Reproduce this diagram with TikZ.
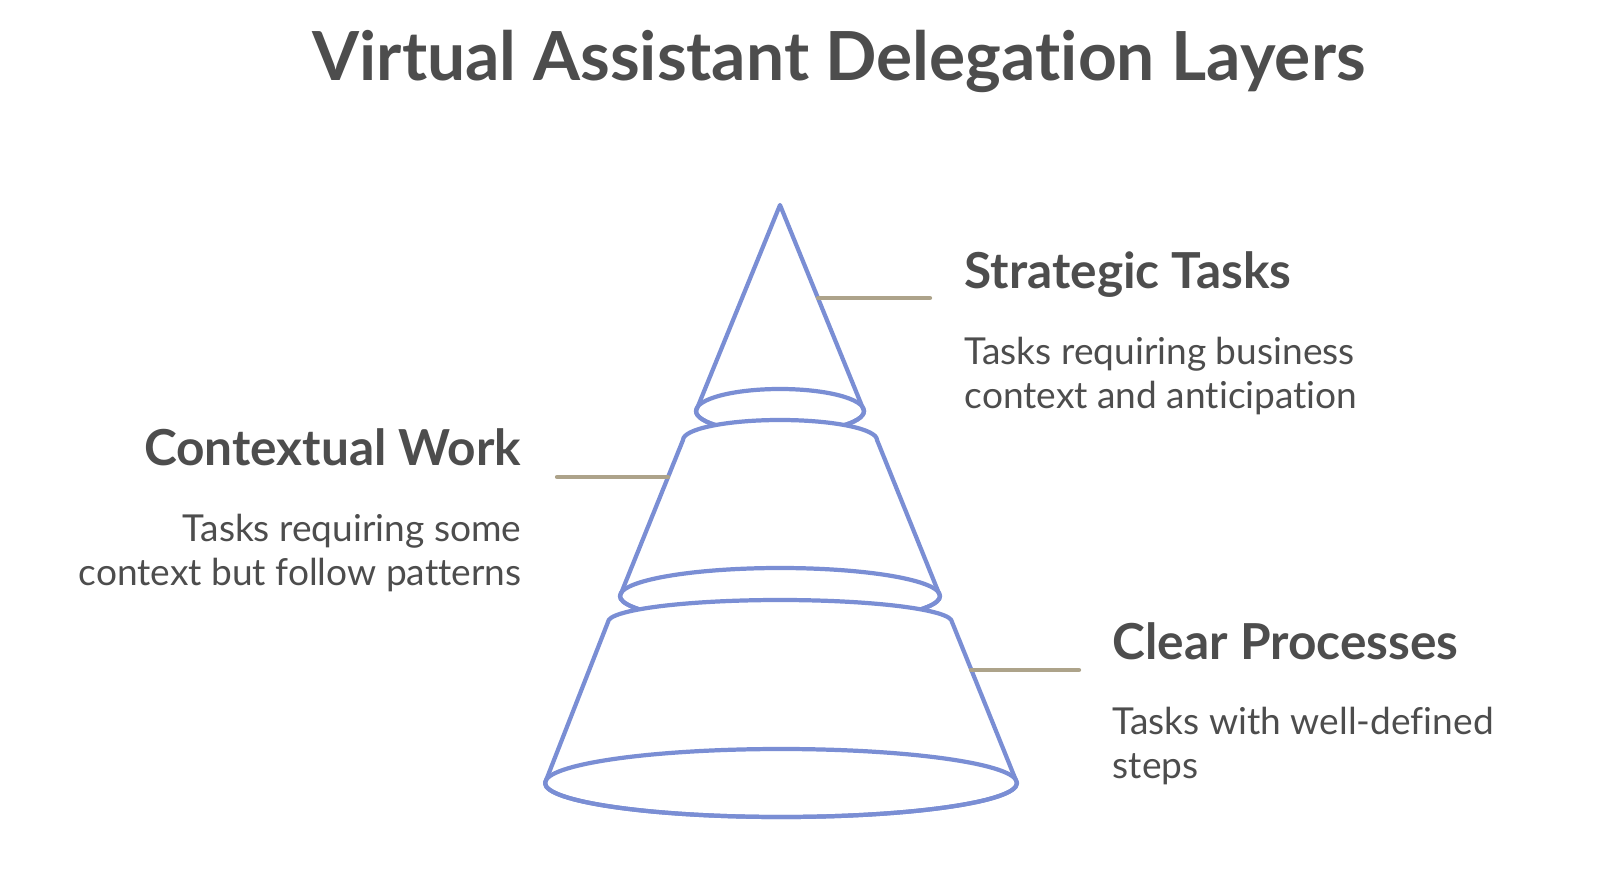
\documentclass[tikz,border=0pt]{standalone}
\usepackage{fontspec}
\setmainfont{Lato}[Ligatures=NoCommon]
\usetikzlibrary{positioning,calc}
\definecolor{conecol}{HTML}{7A8ED4}
\definecolor{leadcol}{HTML}{ADA38A}
\definecolor{textcol}{HTML}{4D4D4D}
\tikzset{
  cone/.style={draw=conecol, line width=1.2pt, line join=round, fill=white},
  lead/.style={draw=leadcol, line width=1.2pt, line cap=round},
  heading/.style={text=textcol, font=\fontsize{14.1}{17}\selectfont\bfseries, inner sep=0pt},
  desc/.style={text=textcol, font=\fontsize{10.55}{12.5}\selectfont, inner sep=0pt, align=left},
}
\begin{document}
\begin{tikzpicture}[x=0.01cm, y=0.01cm]
        \useasboundingbox (0,0) rectangle (1600,875);

        % title
        \node[text=textcol, font=\fontsize{19.25}{23}\selectfont\bfseries, inner sep=0pt, anchor=base] (title) at (839,794) {Virtual Assistant Delegation Layers};

        % top cone
        \coordinate (apex) at (780,670);
        \filldraw[cone] (696,464) -- (apex) -- (864,464) arc[start angle=0, end angle=-180, x radius=84, y radius=22] -- cycle;
        \draw[cone, fill=none] (780,464) ellipse[x radius=84, y radius=22];

        % middle layer
        \filldraw[cone] (620,279) -- (683,435) arc[start angle=180, end angle=0, x radius=97, y radius=20] -- (940,279) arc[start angle=0, end angle=-180, x radius=160, y radius=28] -- cycle;
        \draw[cone, fill=none] (780,279) ellipse[x radius=160, y radius=28];

        % bottom layer
        \filldraw[cone] (545,92) -- (608,253) arc[start angle=180, end angle=0, x radius=172, y radius=22] -- (1017,92) arc[start angle=0, end angle=-180, x radius=236, y radius=34] -- cycle;
        \draw[cone, fill=none] (781,92) ellipse[x radius=236, y radius=34];

        % leader lines
        \coordinate (st1) at (818,577);
        \coordinate (st2) at (930,577);
        \coordinate (cw1) at (668,398);
        \coordinate (cw2) at (557,398);
        \coordinate (cp1) at (971,205);
        \coordinate (cp2) at (1079,205);
        \draw[lead] (st1) -- (st2);
        \draw[lead] (cw1) -- (cw2);
        \draw[lead] (cp1) -- (cp2);

        % labels (base = last line)
        \node[heading, anchor=base west] (strat) at (964,587) {Strategic Tasks};
        \node[desc, anchor=base west] (stratdesc) at (964,467) {Tasks requiring business\\context and anticipation};
        \node[heading, anchor=base east] (context) at (522,410) {Contextual Work};
        \node[desc, anchor=base east, align=right] (contextdesc) at (522,290) {Tasks requiring some\\context but follow patterns};
        \node[heading, anchor=base west] (clear) at (1112,216) {Clear Processes};
        \node[desc, anchor=base west] (cleardesc) at (1112,97) {Tasks with well-defined\\steps};
\end{tikzpicture}
\end{document}
